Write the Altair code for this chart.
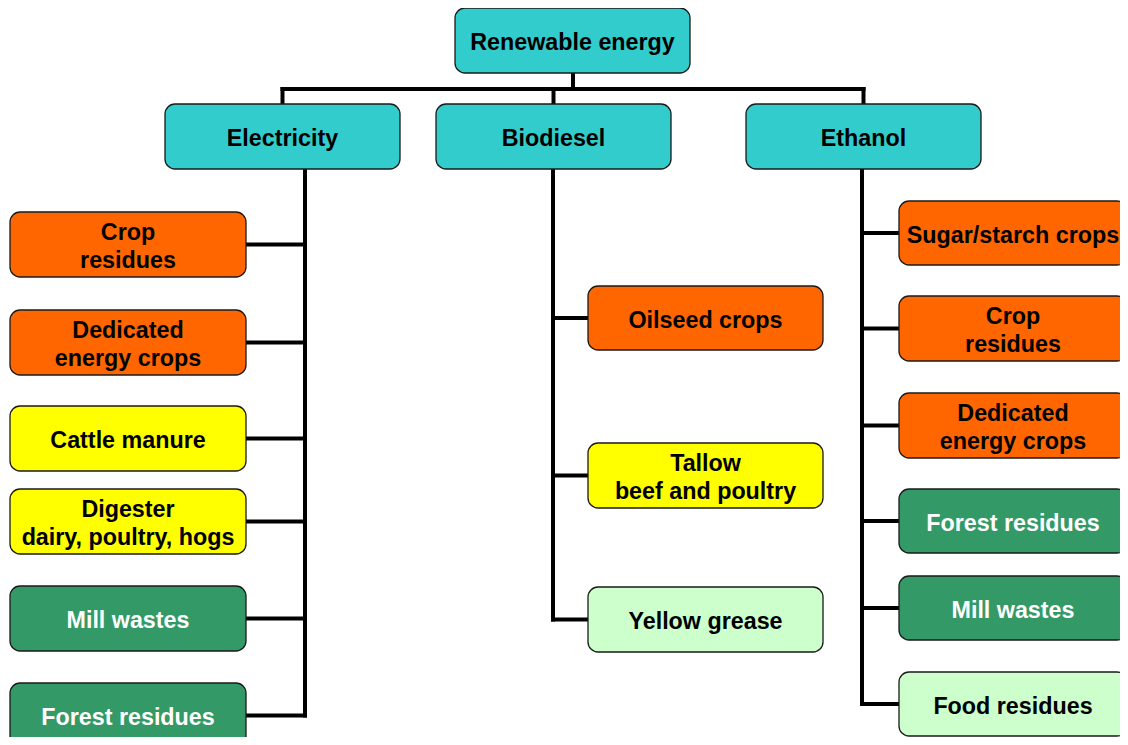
import altair as alt
import pandas as pd

# ---- tree nodes (pixel-space coordinates of the diagram) ----
labels = [
    "Renewable energy",
    "Electricity", "Biodiesel", "Ethanol",
    "Crop\nresidues", "Dedicated\nenergy crops", "Cattle manure",
    "Digester\ndairy, poultry, hogs", "Mill wastes", "Forest residues",
    "Oilseed crops", "Tallow\nbeef and poultry", "Yellow grease",
    "Sugar/starch crops", "Crop\nresidues", "Dedicated\nenergy crops",
    "Forest residues", "Mill wastes", "Food residues",
]
parents = [
    None,
    0, 0, 0,
    1, 1, 1, 1, 1, 1,
    2, 2, 2,
    3, 3, 3, 3, 3, 3,
]
kinds = [
    "hub",
    "hub", "hub", "hub",
    "crop", "crop", "manure", "manure", "wood", "wood",
    "crop", "manure", "waste",
    "crop", "crop", "crop", "wood", "wood", "waste",
]
x_left = [455, 165, 436, 746,
          10, 10, 10, 10, 10, 10,
          588, 588, 588,
          899, 899, 899, 899, 899, 899]
x_right = [690, 400, 671, 981,
           246, 246, 246, 246, 246, 246,
           823, 823, 823,
           1127, 1127, 1127, 1127, 1127, 1127]
y_top = [8, 104, 104, 104,
         212, 310, 406, 489, 586, 683,
         286, 443, 587,
         201, 296, 393, 489, 576, 672]
y_bottom = [73, 169, 169, 169,
            277, 375, 471, 554, 651, 748,
            350, 508, 652,
            265, 361, 458, 553, 640, 736]

# trunk positions of each parent's connector
trunk_x = [573, 305, 553, 862]
bus_y = [89]

kind_names = ["hub", "crop", "manure", "wood", "waste"]
kind_fill = ["#33CCCC", "#FF6600", "#FFFF00", "#339966", "#CCFFCC"]
kind_text = ["#000000", "#000000", "#000000", "#FFFFFF", "#000000"]

LINE_H = 28

# ---- build tables ----
nodes = pd.DataFrame({
    "label": labels, "parent": parents, "kind": kinds,
    "x0": x_left, "x1": x_right, "y0": y_top, "y1": y_bottom,
})
nodes["cx"] = (nodes["x0"] + nodes["x1"]) / 2
nodes["cy"] = (nodes["y0"] + nodes["y1"]) / 2
nodes["nlines"] = nodes["label"].str.count("\n") + 1
nodes["ty"] = nodes["cy"] - (nodes["nlines"] - 1) * LINE_H / 2

segs = []
root = nodes.iloc[0]
lvl1 = nodes[nodes["parent"] == 0]
segs.append(dict(x=trunk_x[0], x2=trunk_x[0], y=root["y1"], y2=bus_y[0]))
segs.append(dict(x=lvl1["cx"].min(), x2=lvl1["cx"].max(), y=bus_y[0], y2=bus_y[0]))
for _, r in lvl1.iterrows():
    segs.append(dict(x=r["cx"], x2=r["cx"], y=bus_y[0], y2=r["y0"]))
for pid in [1, 2, 3]:
    p = nodes.iloc[pid]
    kids = nodes[nodes["parent"] == pid]
    tx = trunk_x[pid]
    segs.append(dict(x=tx, x2=tx, y=p["y1"], y2=kids["cy"].max()))
    for _, k in kids.iterrows():
        edge = k["x0"] if k["x0"] > tx else k["x1"]
        segs.append(dict(x=tx, x2=edge, y=k["cy"], y2=k["cy"]))
lines = pd.DataFrame(segs)

W, H = 1112, 729
xs = alt.Scale(domain=[8, 8 + W])
ys = alt.Scale(domain=[8, 8 + H], reverse=True)

connectors = alt.Chart(lines).mark_rule(
    color="#000000", strokeWidth=4, strokeCap="square"
).encode(
    x=alt.X("x:Q", scale=xs, axis=None), x2="x2:Q",
    y=alt.Y("y:Q", scale=ys, axis=None), y2="y2:Q",
)

boxes = alt.Chart(nodes).mark_rect(
    cornerRadius=10, stroke="#1a1a1a", strokeWidth=1.3, clip=True
).encode(
    x=alt.X("x0:Q", scale=xs, axis=None), x2="x1:Q",
    y=alt.Y("y0:Q", scale=ys, axis=None), y2="y1:Q",
    fill=alt.Fill("kind:N", scale=alt.Scale(domain=kind_names, range=kind_fill), legend=None),
)

texts = alt.Chart(nodes).mark_text(
    font="Liberation Sans", fontWeight="bold", fontSize=23.3,
    align="center", baseline="middle", lineBreak="\n", lineHeight=LINE_H, dy=2.5,
).encode(
    x=alt.X("cx:Q", scale=xs, axis=None),
    y=alt.Y("ty:Q", scale=ys, axis=None),
    text="label:N",
    color=alt.Color("kind:N", scale=alt.Scale(domain=kind_names, range=kind_text), legend=None),
)

chart = alt.layer(connectors, boxes, texts).properties(
    width=W, height=H, padding=0, autosize=alt.AutoSizeParams(type="none"),
    background="#FFFFFF",
).configure_view(stroke=None)

chart.save("out.html", embed_options={"renderer": "svg", "actions": False})
